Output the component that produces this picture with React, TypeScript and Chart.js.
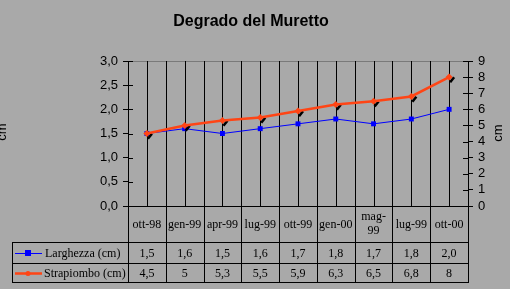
import { useEffect, useRef } from "react";
import { Chart, registerables } from "chart.js";
Chart.register(...registerables);

const title = "Degrado del Muretto";
const categories: (string | string[])[] = ["ott-98", "gen-99", "apr-99", "lug-99", "ott-99", "gen-00", ["mag-", "99"], "lug-99", "ott-00"];
const larghezza = [1.5, 1.6, 1.5, 1.6, 1.7, 1.8, 1.7, 1.8, 2.0];
const strapiombo = [4.5, 5, 5.3, 5.5, 5.9, 6.3, 6.5, 6.8, 8];
const seriesNames = ["Larghezza (cm)", "Strapiombo (cm)"];
const leftAxis = { min: 0, max: 3, step: 0.5 };
const rightAxis = { min: 0, max: 9, step: 1 };
const unitLabel = "cm";

const BLUE = "#0000FF";
const RED = "#FF4515";
const SANS = "'Liberation Sans', Arial, sans-serif";
const SERIF = "'Liberation Serif', 'Times New Roman', serif";

const fmtL = (v: number) => v.toFixed(1).replace(".", ",");
const fmtS = (v: number) => String(v).replace(".", ",");

const decor = {
  id: "decor",
  beforeDatasetsDraw(chart: any) {
    const { ctx, chartArea: ca, scales } = chart;
    const x = scales.x;
    const n = categories.length;
    ctx.save();
    ctx.strokeStyle = "#7a7a7a";
    ctx.lineWidth = 1;
    ctx.beginPath();
    ctx.moveTo(ca.left, Math.round(ca.top) + 0.5);
    ctx.lineTo(ca.right, Math.round(ca.top) + 0.5);
    ctx.stroke();
    ctx.strokeStyle = "#000";
    ctx.beginPath();
    for (let i = 0; i < n; i++) {
      const cx = Math.round(x.getPixelForValue(i)) + 0.5;
      ctx.moveTo(cx, ca.top);
      ctx.lineTo(cx, ca.bottom);
    }
    for (let k = 1; k < n; k++) {
      const bx = Math.round(x.getPixelForValue(k - 0.5)) + 0.5;
      ctx.moveTo(bx, ca.top);
      ctx.lineTo(bx, ca.bottom);
    }
    const yl = scales.y;
    yl.ticks.forEach((_t: any, i: number) => {
      const py = Math.round(yl.getPixelForTick(i)) + 0.5;
      ctx.moveTo(ca.left, py);
      ctx.lineTo(ca.left + 5, py);
    });
    const yr = scales.y1;
    yr.ticks.forEach((_t: any, i: number) => {
      const py = Math.round(yr.getPixelForTick(i)) + 0.5;
      ctx.moveTo(ca.right - 5, py);
      ctx.lineTo(ca.right, py);
    });
    ctx.stroke();
    ctx.restore();
  },
  beforeDatasetDraw(chart: any, args: any) {
    if (args.index !== 1) return;
    const { ctx } = chart;
    ctx.save();
    ctx.fillStyle = "#000";
    args.meta.data.forEach((p: any) => {
      const cx = p.x + 3;
      const cy = p.y + 3;
      ctx.beginPath();
      ctx.moveTo(cx + 1, cy - 3.5);
      ctx.lineTo(cx + 3, cy - 2);
      ctx.lineTo(cx - 1, cy + 3);
      ctx.lineTo(cx - 3, cy + 1.5);
      ctx.closePath();
      ctx.fill();
    });
    ctx.restore();
  },
  afterDraw(chart: any) {
    const { ctx, chartArea: ca, scales } = chart;
    const x = scales.x;
    const n = categories.length;
    ctx.save();
    ctx.fillStyle = "#000";
    ctx.font = `bold 16px ${SANS}`;
    ctx.textAlign = "center";
    ctx.textBaseline = "alphabetic";
    ctx.fillText(title, 251, 26);
    ctx.font = `13px ${SANS}`;
    ctx.textBaseline = "middle";
    ctx.save();
    ctx.translate(2, 132);
    ctx.rotate(-Math.PI / 2);
    ctx.fillText(unitLabel, 0, 0);
    ctx.restore();
    ctx.save();
    ctx.translate(498, 133);
    ctx.rotate(-Math.PI / 2);
    ctx.fillText(unitLabel, 0, 0);
    ctx.restore();

    const r0 = Math.round(ca.bottom);
    const r1 = 242, r2 = 263, r3 = 282;
    const legL = 12;
    ctx.strokeStyle = "#000";
    ctx.lineWidth = 1;
    ctx.beginPath();
    ctx.moveTo(ca.left, r0 + 0.5); ctx.lineTo(ca.right + 1, r0 + 0.5);
    [r1, r2, r3].forEach((r) => { ctx.moveTo(legL, r + 0.5); ctx.lineTo(ca.right + 1, r + 0.5); });
    for (let k = 0; k <= n; k++) {
      const bx = Math.round(x.getPixelForValue(k - 0.5)) + 0.5;
      ctx.moveTo(bx, r0);
      ctx.lineTo(bx, r3 + 1);
    }
    ctx.moveTo(legL + 0.5, r1); ctx.lineTo(legL + 0.5, r3 + 1);
    ctx.stroke();

    ctx.font = `12px ${SERIF}`;
    ctx.textAlign = "center";
    ctx.textBaseline = "middle";
    for (let i = 0; i < n; i++) {
      const cx = x.getPixelForValue(i);
      const lab = categories[i];
      if (Array.isArray(lab)) {
        const lh = 14;
        const start = (r0 + r1) / 2 - ((lab.length - 1) * lh) / 2;
        lab.forEach((s, j) => ctx.fillText(s, cx, start + j * lh));
      } else {
        ctx.fillText(lab, cx, (r0 + r1) / 2 + 1);
      }
      ctx.fillText(fmtL(larghezza[i]), cx, (r1 + r2) / 2 + 1);
      ctx.fillText(fmtS(strapiombo[i]), cx, (r2 + r3) / 2 + 1);
    }
    const ky1 = Math.round((r1 + r2) / 2) + 0.5;
    const ky2 = Math.round((r2 + r3) / 2) + 0.5;
    ctx.strokeStyle = BLUE;
    ctx.lineWidth = 1;
    ctx.beginPath(); ctx.moveTo(15, ky1); ctx.lineTo(42, ky1); ctx.stroke();
    ctx.fillStyle = BLUE;
    ctx.fillRect(25, ky1 - 3.5, 6, 6);
    ctx.strokeStyle = RED;
    ctx.lineWidth = 2.5;
    ctx.beginPath(); ctx.moveTo(15, ky2); ctx.lineTo(42, ky2); ctx.stroke();
    ctx.fillStyle = RED;
    ctx.beginPath(); ctx.arc(28, ky2, 2.5, 0, Math.PI * 2); ctx.fill();
    ctx.fillStyle = "#000";
    ctx.textAlign = "left";
    ctx.fillText(seriesNames[0], 45, ky1 + 0.5);
    ctx.fillText(seriesNames[1], 44, ky2 + 0.5);
    ctx.restore();
  },
};

export default function App() {
  const ref = useRef<HTMLCanvasElement>(null);
  useEffect(() => {
    const chart = new Chart(ref.current!, {
      type: "line",
      data: {
        labels: categories.map((c) => (Array.isArray(c) ? c.join("") : c)),
        datasets: [
          {
            label: seriesNames[0],
            data: larghezza,
            yAxisID: "y",
            borderColor: BLUE,
            backgroundColor: BLUE,
            borderWidth: 1,
            pointStyle: "rect",
            pointRadius: 3.5,
            pointBorderWidth: 0,
            tension: 0,
            order: 1,
          },
          {
            label: seriesNames[1],
            data: strapiombo,
            yAxisID: "y1",
            borderColor: RED,
            backgroundColor: RED,
            borderWidth: 2.5,
            pointStyle: "rectRot",
            pointRadius: 3.5,
            pointBorderWidth: 0,
            tension: 0,
            order: 0,
          },
        ],
      },
      options: {
        animation: false,
        responsive: false,
        layout: { padding: { top: 61, left: 0, right: 0, bottom: 0 } },
        plugins: { legend: { display: false }, title: { display: false }, tooltip: { enabled: false } },
        scales: {
          x: {
            type: "category",
            offset: true,
            grid: { display: false },
            border: { display: false },
            ticks: { display: false },
            afterFit: (s: any) => { s.height = 83; },
          },
          y: {
            position: "left",
            min: leftAxis.min,
            max: leftAxis.max,
            ticks: {
              stepSize: leftAxis.step,
              autoSkip: false,
              callback: (v: any) => Number(v).toFixed(1).replace(".", ","),
              font: { family: SANS, size: 13 },
              color: "#000",
              padding: 5,
            },
            grid: { drawOnChartArea: false, tickLength: 5, color: "#000" },
            border: { display: true, color: "#000", width: 1 },
            afterFit: (s: any) => { s.width = 128; },
          },
          y1: {
            position: "right",
            min: rightAxis.min,
            max: rightAxis.max,
            ticks: {
              stepSize: rightAxis.step,
              autoSkip: false,
              font: { family: SANS, size: 13 },
              color: "#000",
              padding: 5,
            },
            grid: { drawOnChartArea: false, tickLength: 5, color: "#000" },
            border: { display: true, color: "#000", width: 1 },
            afterFit: (s: any) => { s.width = 42; },
          },
        },
      } as any,
      plugins: [decor],
    });
    return () => chart.destroy();
  }, []);
  return (
    <div style={{ position: "fixed", left: 0, top: 0, width: 510, height: 289, background: "#A9A9A9" }}>
      <canvas ref={ref} width={510} height={289} style={{ display: "block" }} />
    </div>
  );
}
